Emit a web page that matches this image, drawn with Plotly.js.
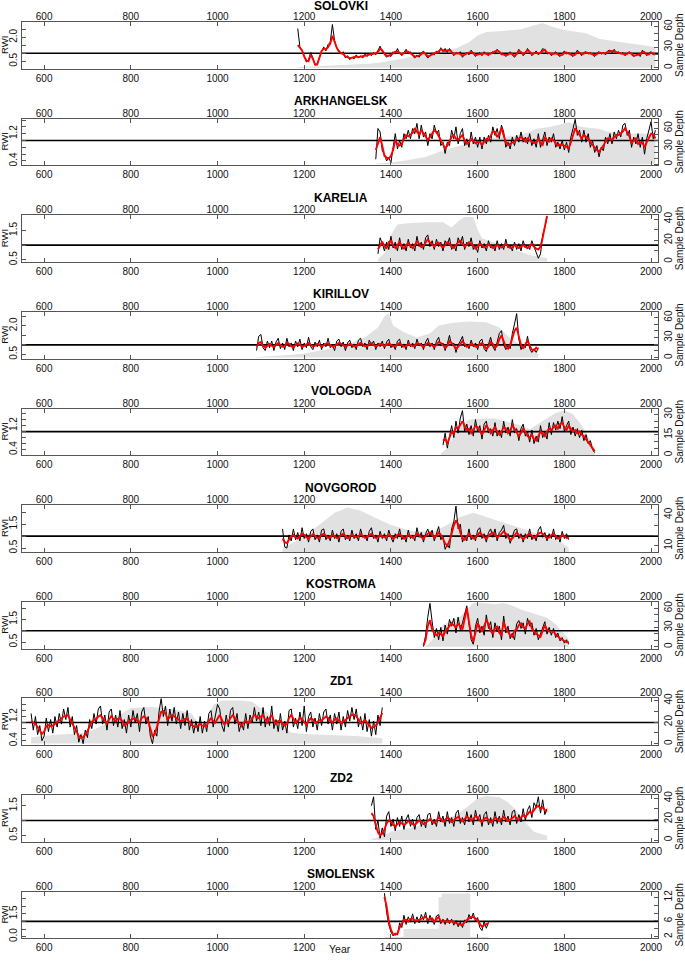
<!DOCTYPE html>
<html><head><meta charset="utf-8">
<script src="https://cdn.plot.ly/plotly-3.0.1.min.js"></script>
<style>html,body{margin:0;padding:0;background:#fff}#chart{width:685px;height:961px}</style>
</head><body><div id="chart"></div>
<script>
// ---------------- DATA ----------------
const chronNames = ['SOLOVKI','ARKHANGELSK','KARELIA','KIRILLOV','VOLOGDA','NOVGOROD','KOSTROMA','ZD1','ZD2','SMOLENSK'];
const yearTicks = [600,800,1000,1200,1400,1600,1800,2000];
const yearStep = 5;

const solovkiStart = 1185;
const solovkiRwi = [
2.55,1.4,1.2,0.75,0.45,0.6,1.05,0.7,0.25,0.35,
0.8,1.1,1.4,1.15,1.55,1.7,2.8,1.8,1.3,1.2,
0.95,1.1,0.7,0.85,0.6,0.75,0.65,0.9,0.7,0.85,
0.7,0.95,0.8,1.0,0.85,1.05,0.9,1.15,1.45,1.1,
0.95,0.75,0.9,0.8,1.1,0.95,1.3,1.0,0.85,1.05,
1.25,0.95,1.1,0.85,0.7,0.9,0.75,1.0,1.15,0.9,
0.7,0.85,1.0,0.9,1.15,1.0,1.35,1.1,1.3,1.05,
1.3,1.1,0.85,1.05,0.95,1.1,0.75,0.95,1.05,0.9,
1.2,1.0,0.8,0.95,1.05,0.85,1.1,0.95,0.85,1.0,
1.1,0.95,1.25,1.1,0.9,1.0,0.8,0.95,1.1,0.9,
0.75,0.95,1.25,1.05,0.85,1.0,1.3,1.1,0.85,1.0,
1.15,0.9,1.05,1.3,1.2,0.95,1.05,0.85,1.0,1.1,
0.9,0.8,0.95,1.15,0.95,1.05,0.9,0.8,0.95,1.2,
1.0,0.85,1.05,1.1,0.95,1.05,0.9,0.8,1.0,1.1,
0.95,1.05,0.9,1.15,1.2,1.05,1.25,1.0,1.1,0.95,
1.05,0.85,1.0,1.1,0.9,0.8,0.9,0.95,0.8,1.2,
1.05,0.85,1.0,1.1,0.9,1.0];
const solovkiSpline = [
1.52,1.35,1.18,0.8,0.55,0.5,0.92,0.65,0.3,0.3,
0.7,1.15,1.3,1.25,1.38,1.6,2.1,1.7,1.35,1.1,
1.05,0.95,0.8,0.75,0.7,0.72,0.75,0.8,0.76,0.78,
0.8,0.84,0.88,0.92,0.95,0.98,1.0,1.1,1.28,1.2,
0.98,0.85,0.85,0.9,1.0,1.1,1.12,1.0,0.92,1.02,
1.12,1.1,1.0,0.9,0.8,0.82,0.86,0.95,1.05,0.95,
0.8,0.85,0.95,1.0,1.05,1.12,1.25,1.2,1.15,1.18,
1.2,1.08,0.95,0.98,1.02,0.95,0.85,0.92,1.0,1.05,
1.1,1.0,0.9,0.92,0.96,0.95,1.0,0.97,0.92,0.98,
1.05,1.1,1.18,1.1,0.95,0.92,0.88,0.92,1.0,0.95,
0.85,0.95,1.15,1.08,0.95,1.05,1.2,1.1,0.95,1.0,
1.05,1.0,1.02,1.15,1.22,1.05,1.0,0.95,0.97,1.0,
0.95,0.88,0.9,1.02,1.05,1.0,0.95,0.87,0.92,1.08,
1.05,0.95,0.98,1.05,1.02,1.0,0.95,0.9,0.95,1.05,
1.02,1.0,1.02,1.1,1.13,1.15,1.12,1.05,1.03,1.0,
0.98,0.93,0.97,1.05,0.98,0.85,0.88,0.92,0.95,1.1,
1.08,0.92,0.93,1.05,1.0,0.92];
const solovkiDepthYears = [1185,1220,1260,1300,1350,1380,1400,1450,1500,1550,1580,1600,1620,1650,1700,1730,1750,1770,1800,1850,1880,1920,1950,2000,2010];
const solovkiDepth = [1,2,3,4,6,8,10,16,23,28,37,47,52,53,56,62,65,60,55,50,42,38,35,30,30];

const arkhStart = 1365;
const arkhRwi = [
0.45,1.35,1.25,0.7,0.6,0.4,0.5,0.35,0.8,1.2,
0.75,1.0,0.8,1.2,1.05,1.3,1.05,1.35,1.2,1.5,
1.05,1.45,1.1,1.25,0.85,1.2,1.05,1.45,1.2,1.3,
0.85,0.95,0.62,0.95,0.85,1.3,1.05,1.4,0.9,1.2,
1.35,0.85,1.05,0.8,1.25,0.9,1.1,0.8,1.1,0.75,
1.1,0.9,1.15,0.95,1.4,1.15,1.35,1.05,1.45,1.25,
0.8,0.95,0.75,1.1,0.85,1.15,0.95,1.25,0.95,1.1,
0.9,1.2,0.85,1.05,0.8,1.2,0.8,1.0,1.25,0.85,
1.1,0.95,1.2,0.8,0.95,0.75,1.0,0.72,0.95,0.65,
1.1,1.35,1.62,1.15,1.3,0.95,1.3,0.95,1.2,0.8,
1.0,0.65,0.85,0.52,0.8,0.7,1.1,0.9,1.2,0.9,
1.25,1.05,1.3,1.1,1.45,1.5,1.15,1.3,0.8,1.1,
0.9,1.2,0.8,1.1,0.6,1.05,1.3,1.55,1.05,1.3];
const arkhSpline = [
0.72,0.95,1.1,0.85,0.55,0.5,0.47,0.55,0.72,1.0,
0.9,0.85,0.9,1.05,1.16,1.12,1.18,1.22,1.36,1.25,
1.16,1.31,1.2,1.1,1.02,1.1,1.2,1.3,1.25,1.12,
0.98,0.85,0.77,0.85,0.98,1.1,1.16,1.05,1.02,1.1,
1.16,1.0,0.9,0.95,1.05,1.0,0.92,0.96,0.95,0.87,
0.95,1.05,1.01,1.15,1.26,1.25,1.1,1.2,1.36,1.15,
0.95,0.87,0.9,0.95,0.97,1.02,1.06,1.1,1.05,0.97,
1.06,1.02,0.97,0.92,0.95,1.06,0.92,0.87,1.11,1.0,
0.97,1.06,1.0,0.92,0.85,0.88,0.87,0.85,0.82,0.77,
0.95,1.2,1.36,1.26,1.15,1.06,1.16,1.1,1.06,0.95,
0.87,0.77,0.72,0.67,0.75,0.85,0.97,1.06,1.04,1.01,
1.1,1.16,1.16,1.22,1.26,1.36,1.25,1.12,0.92,1.0,
1.06,0.9,0.95,0.95,0.8,0.95,1.1,1.2,1.18,1.06];
const arkhDepthYears = [1365,1400,1440,1480,1520,1560,1600,1640,1680,1710,1735,1765,1790,1810,1840,1880,1900,1940,1980,2010];
const arkhDepth = [1,3,7,12,23,31,37,45,47,51,59,62,66,70,62,59,54,51,51,50];

const kareliaStart = 1370;
const kareliaRwi = [
0.7,1.25,1.05,0.8,1.1,0.85,1.3,0.9,1.1,0.8,
1.25,0.85,1.05,0.8,1.2,0.9,1.05,0.8,1.3,0.95,
1.1,0.85,1.25,1.35,0.95,1.15,0.85,1.2,0.95,1.1,
0.8,1.15,1.0,1.25,0.85,1.0,0.8,1.25,1.05,1.3,
0.85,1.1,0.95,1.25,0.85,1.0,0.75,1.15,0.9,1.05,
0.8,1.15,0.9,1.0,0.8,1.15,0.85,1.05,0.85,1.2,
0.9,1.0,0.8,1.1,0.85,1.05,0.8,1.15,0.9,1.0,
0.85,1.15,0.95,0.75,0.55,0.7,1.35,1.6,1.95];
const kareliaSpline = [
0.85,1.0,1.12,0.95,0.9,1.1,1.15,1.0,0.9,1.0,
1.1,0.95,0.88,1.0,1.08,0.97,0.9,1.0,1.12,1.05,
0.93,0.98,1.1,1.2,1.08,1.0,0.95,1.05,1.08,0.98,
0.92,1.0,1.1,1.05,0.95,0.9,1.0,1.1,1.15,1.05,
0.95,1.0,1.1,1.05,0.95,0.88,0.95,1.05,1.0,0.92,
0.95,1.02,0.97,0.9,0.95,1.0,0.95,0.92,0.98,1.03,
0.95,0.9,0.93,1.0,0.96,0.9,0.95,1.0,0.94,0.9,
0.97,1.02,0.95,0.88,0.85,0.95,1.25,1.7,2.0];
const kareliaDepthYears = [1370,1385,1400,1415,1440,1480,1520,1540,1555,1570,1590,1600,1610,1640,1680,1720,1760];
const kareliaDepth = [2,8,25,35,36,37,37,32,38,42,42,30,22,18,12,6,3];

const kirillovStart = 1090;
const kirillovRwi = [
0.7,1.45,1.55,0.85,0.7,1.2,0.85,1.2,0.7,1.15,
1.35,0.8,1.1,0.75,1.35,0.9,1.1,0.7,1.2,0.9,
1.3,0.75,1.1,0.85,1.4,0.9,0.75,1.15,0.9,1.25,
0.75,1.1,0.9,1.35,0.85,1.0,0.7,1.2,1.3,0.9,
1.15,0.7,1.1,1.25,0.85,1.05,0.75,1.25,1.35,0.9,
1.1,0.75,1.25,1.0,1.2,0.75,1.1,0.9,1.2,0.8,
1.15,1.3,0.85,1.05,0.75,1.2,1.3,0.85,1.05,0.75,
1.25,0.9,1.1,0.8,1.3,0.95,1.1,0.75,1.15,1.35,
0.9,1.1,0.75,1.2,1.4,0.95,1.1,0.7,1.05,1.5,
0.95,1.1,0.6,1.0,1.2,1.45,0.9,1.05,0.8,1.25,
0.9,1.1,0.75,1.2,1.3,0.8,0.65,1.05,1.4,0.9,
0.7,1.15,1.6,1.75,1.0,0.75,0.95,0.8,1.6,2.1,
2.65,1.3,0.75,1.0,0.85,1.45,0.8,0.6,0.8,0.6,
0.85];
const kirillovSpline = [
0.9,1.1,1.15,0.95,0.85,0.95,1.05,0.95,0.88,1.0,
1.1,1.0,0.9,0.95,1.1,1.05,0.92,0.88,1.0,1.08,
1.0,0.9,0.95,1.05,1.1,1.0,0.9,0.95,1.05,1.0,
0.92,0.97,1.05,1.08,1.0,0.9,0.93,1.02,1.1,1.05,
0.95,0.9,0.97,1.05,1.0,0.92,0.95,1.03,1.1,1.02,
0.93,0.95,1.05,1.08,1.0,0.92,0.97,1.05,1.0,0.95,
1.02,1.08,1.0,0.92,0.95,1.05,1.1,1.0,0.9,0.95,
1.05,1.0,0.93,0.98,1.08,1.05,0.95,0.9,1.0,1.1,
1.05,0.95,0.9,1.0,1.15,1.1,0.95,0.85,0.95,1.2,
1.1,0.95,0.8,0.9,1.05,1.2,1.05,0.9,0.95,1.05,
1.0,0.9,0.95,1.05,1.1,0.95,0.8,0.9,1.15,1.05,
0.85,0.95,1.3,1.5,1.15,0.9,0.8,1.0,1.35,1.75,
1.9,1.45,1.0,0.8,1.0,1.25,0.95,0.75,0.7,0.85,
0.75];
const kirillovDepthYears = [1090,1150,1200,1250,1300,1340,1370,1385,1395,1405,1430,1460,1490,1510,1540,1580,1620,1650,1670,1700,1740];
const kirillovDepth = [1,3,6,12,20,30,45,62,66,48,38,30,36,48,52,54,53,45,32,18,5];

const vologdaStart = 1520;
const vologdaRwi = [
0.55,0.95,0.45,0.9,1.2,0.8,1.35,0.95,1.45,1.7,
1.0,1.25,0.9,1.2,0.85,1.4,1.0,1.2,0.75,1.25,
1.35,0.95,1.1,0.85,1.3,0.85,1.05,0.8,1.35,0.95,
1.15,0.85,1.4,0.95,1.1,0.7,1.1,1.25,0.85,1.0,
0.65,1.05,0.6,0.85,0.65,1.2,0.8,1.0,0.75,1.3,
0.9,1.3,1.05,1.35,1.1,1.5,1.0,1.2,1.35,0.9,
1.15,0.85,1.1,0.8,1.05,0.7,0.9,0.6,0.7,0.4,
0.3];
const vologdaSpline = [
0.7,0.75,0.6,0.8,1.0,0.95,1.15,1.1,1.25,1.35,
1.2,1.05,1.1,0.95,1.05,1.2,1.15,1.0,0.9,1.05,
1.2,1.1,0.95,1.05,1.15,1.0,0.9,1.0,1.15,1.1,
0.95,1.05,1.2,1.1,0.95,0.85,0.95,1.1,1.0,0.85,
0.8,0.9,0.75,0.7,0.85,1.0,0.95,0.85,1.0,1.1,
1.05,1.15,1.2,1.1,1.25,1.3,1.15,1.05,1.2,1.1,
1.0,1.05,0.95,1.0,0.9,0.85,0.75,0.65,0.55,0.45,
0.35];
const vologdaDepthYears = [1515,1530,1545,1560,1580,1600,1640,1660,1700,1720,1750,1780,1800,1820,1840,1860,1870];
const vologdaDepth = [1,5,14,22,26,27,27,25,22,19,25,31,33,30,22,11,4];

const novgorodStart = 1150;
const novgorodRwi = [
1.3,0.55,0.5,1.05,0.8,1.3,0.85,1.15,0.8,1.35,
0.9,1.1,0.75,1.2,1.3,0.85,1.05,0.75,1.25,1.3,
0.85,1.05,0.8,1.25,0.9,1.1,0.75,1.2,1.3,0.85,
1.05,0.8,1.25,0.9,1.1,0.8,1.3,0.95,1.05,0.8,
1.2,1.35,0.9,1.05,0.75,1.2,0.9,1.1,0.8,1.25,
0.95,0.75,1.1,0.9,1.3,0.85,1.0,0.75,1.25,0.9,
1.05,0.8,1.35,0.95,1.15,0.75,1.1,1.3,1.0,1.25,
0.8,1.15,1.4,0.85,1.0,0.45,0.65,0.5,1.3,1.6,
2.25,1.3,1.5,0.75,1.0,0.8,1.3,0.85,1.05,0.8,
1.25,1.35,0.9,1.1,0.75,1.15,1.3,0.95,1.3,0.8,
1.15,1.25,1.45,0.9,1.1,0.7,1.0,1.25,1.3,0.9,
1.1,0.75,1.1,0.9,1.3,0.85,1.05,0.8,1.25,1.4,
0.95,1.15,0.8,1.1,0.9,1.3,0.85,1.05,0.75,1.2,
0.9,1.1,0.85];
const novgorodSpline = [
0.9,0.75,0.7,0.85,1.0,1.05,0.95,0.9,1.0,1.1,
1.05,0.95,0.9,1.0,1.08,1.0,0.92,0.95,1.05,1.1,
1.0,0.93,0.97,1.05,1.0,0.92,0.95,1.05,1.1,1.0,
0.92,0.97,1.05,1.0,0.95,1.0,1.08,1.02,0.93,0.97,
1.05,1.1,1.0,0.92,0.95,1.03,1.0,0.95,0.98,1.05,
1.0,0.9,0.95,1.05,1.08,0.98,0.9,0.95,1.05,1.0,
0.93,1.0,1.1,1.05,0.95,0.9,1.0,1.1,1.15,1.05,
0.95,1.0,1.15,1.05,0.85,0.7,0.6,0.8,1.1,1.45,
1.65,1.5,1.15,0.9,0.85,1.0,1.1,1.0,0.9,0.95,
1.05,1.15,1.05,0.95,0.9,1.0,1.1,1.15,1.05,0.95,
1.0,1.1,1.2,1.1,0.95,0.85,0.9,1.05,1.15,1.05,
0.95,0.88,0.95,1.05,1.1,1.0,0.92,1.0,1.1,1.15,
1.1,1.0,0.92,0.95,1.05,1.1,1.0,0.9,0.95,1.05,
1.0,0.92,0.95];
const novgorodDepthYears = [1150,1180,1210,1240,1270,1300,1330,1360,1400,1450,1500,1530,1560,1590,1620,1660,1700,1750,1790,1810];
const novgorodDepth = [8,14,22,32,42,47,44,38,30,24,24,30,38,42,38,32,27,20,14,8];

const kostromaStart = 1475;
const kostromaRwi = [
0.3,0.8,1.6,2.21,1.4,0.7,1.1,0.6,1.15,0.55,
1.25,0.85,1.5,1.2,1.55,0.9,1.6,1.05,1.35,1.8,
2.1,1.3,0.6,0.4,1.2,1.55,0.9,1.2,0.8,1.7,
1.1,1.4,0.7,1.35,0.95,1.2,0.6,1.65,0.9,1.2,
0.65,0.9,0.6,1.3,1.45,1.1,1.35,0.85,1.55,1.2,
1.35,0.8,1.1,0.6,0.9,1.2,1.4,0.85,1.15,0.8,
1.1,0.7,0.9,0.55,0.7,0.45,0.6,0.4];
const kostromaSpline = [
0.35,0.6,1.2,1.47,1.05,0.88,0.8,0.9,0.85,0.75,
0.95,1.1,1.2,1.33,1.25,1.15,1.3,1.2,1.05,1.6,
1.99,1.4,0.8,0.51,0.9,1.33,1.15,0.95,1.2,1.47,
1.3,1.0,0.85,1.1,1.18,0.9,0.8,1.4,1.1,0.96,
0.8,0.73,1.0,1.05,1.25,1.33,1.15,1.1,1.3,1.4,
1.1,0.95,0.85,0.8,0.73,1.0,1.25,1.05,0.96,0.96,
0.96,0.85,0.75,0.66,0.6,0.55,0.5,0.5];
const kostromaDepthYears = [1480,1490,1500,1520,1540,1560,1575,1590,1600,1620,1640,1660,1680,1700,1720,1740,1760,1780,1800,1810];
const kostromaDepth = [1,6,15,34,40,47,58,68,69,67,66,68,64,58,54,50,45,35,20,12];

const zd1Start = 570;
const zd1Rwi = [
1.3,0.75,1.2,0.6,0.9,0.4,0.55,1.15,0.7,1.1,
0.65,1.2,0.85,1.3,0.95,1.45,1.1,1.5,0.85,1.2,
0.6,0.9,0.35,0.6,0.3,0.75,0.5,1.1,0.8,1.3,
0.95,1.45,1.55,0.95,1.25,0.75,1.35,1.45,0.9,1.25,
0.85,1.4,0.8,1.1,0.65,1.25,0.85,1.4,1.0,1.3,
0.7,1.35,1.5,0.95,1.2,0.55,0.3,0.75,0.55,1.35,
1.8,1.2,1.55,0.9,1.45,1.05,1.5,0.95,1.35,0.8,
1.3,0.9,1.4,0.75,1.1,0.65,1.05,0.7,1.2,0.65,
1.05,0.7,1.3,1.4,0.85,1.2,1.6,1.45,0.9,0.7,
1.25,0.85,1.4,1.5,0.95,1.3,0.7,1.0,0.75,1.3,
0.8,1.25,1.0,1.5,1.05,1.35,0.9,1.5,0.85,1.2,
0.9,1.55,0.8,1.1,0.7,1.3,0.75,1.05,0.65,1.4,
1.45,0.85,1.15,0.8,1.35,0.9,1.55,0.7,1.2,1.35,
0.85,1.15,0.75,1.3,0.9,1.35,1.45,0.95,1.25,0.75,
1.3,0.95,1.35,0.75,1.2,0.85,1.4,1.05,1.5,1.1,
1.45,0.85,1.2,0.75,1.3,0.7,1.1,0.55,1.05,0.6,
1.25,0.9,1.5];
const zd1Spline = [
1.05,1.0,0.95,0.85,0.72,0.62,0.7,0.88,0.92,0.88,
0.9,0.95,1.0,1.07,1.14,1.2,1.22,1.25,1.1,0.98,
0.85,0.7,0.55,0.5,0.52,0.6,0.72,0.88,1.02,1.08,
1.12,1.2,1.24,1.15,1.05,0.98,1.1,1.22,1.12,1.05,
1.12,1.14,1.05,0.9,0.95,1.03,1.08,1.12,1.14,1.05,
1.0,1.15,1.2,1.15,1.05,0.8,0.55,0.6,0.85,1.15,
1.36,1.38,1.3,1.1,1.18,1.25,1.2,1.15,1.12,1.05,
1.05,1.12,1.12,1.0,0.92,0.88,0.85,0.9,0.95,0.9,
0.88,0.9,1.05,1.14,1.05,1.0,1.15,1.25,1.1,0.95,
1.0,1.03,1.15,1.25,1.15,1.05,0.95,0.88,1.0,1.05,
1.0,1.0,1.15,1.25,1.2,1.14,1.2,1.25,1.1,1.0,
1.15,1.25,1.05,0.95,1.05,1.05,0.95,0.9,0.95,1.15,
1.25,1.1,1.0,1.05,1.15,1.12,1.0,0.92,1.05,1.14,
1.1,1.0,1.02,1.08,1.07,1.12,1.2,1.15,1.05,1.0,
1.1,1.14,1.05,0.98,1.05,1.08,1.15,1.2,1.25,1.25,
1.22,1.1,0.98,1.02,1.08,1.0,0.9,0.82,0.85,0.9,
1.0,1.14,1.32];
const zd1DepthYears = [570,620,700,730,780,800,850,900,940,960,975,990,1010,1050,1080,1110,1140,1170,1200,1260,1320,1380];
const zd1Depth = [6,8,10,16,28,33,34,32,28,16,20,36,40,40,39,30,20,10,9,8,7,5];

const zd2Start = 1355;
const zd2Rwi = [
1.5,1.8,0.7,1.0,0.4,0.75,0.45,1.15,1.3,0.8,
1.05,0.65,1.1,0.8,1.15,0.7,1.05,1.2,0.8,1.05,
0.7,1.1,1.2,0.8,1.05,0.75,1.2,1.25,0.85,1.05,
0.8,1.3,0.95,1.15,0.8,1.3,0.9,1.1,0.8,1.25,
1.35,0.9,1.1,0.85,1.3,0.95,1.2,0.85,1.35,1.0,
1.2,0.8,1.2,1.3,0.85,1.1,0.8,1.3,0.9,1.15,
0.85,1.35,0.95,1.15,0.85,1.3,1.35,0.9,1.2,0.95,
1.4,1.0,1.35,1.5,1.1,1.6,1.45,1.8,1.25,1.7,
1.2,1.4];
const zd2Spline = [
1.25,1.15,0.85,0.6,0.5,0.55,0.7,0.9,1.0,0.95,
0.85,0.8,0.88,0.95,0.9,0.85,0.9,0.98,0.95,0.88,
0.85,0.92,1.0,0.95,0.88,0.92,1.0,1.05,0.98,0.92,
1.0,1.1,1.05,0.97,1.02,1.1,1.05,0.95,1.0,1.08,
1.12,1.05,0.98,1.05,1.12,1.08,1.0,1.05,1.15,1.1,
1.0,0.95,1.05,1.1,1.02,0.95,1.0,1.1,1.05,0.98,
1.05,1.12,1.05,0.98,1.02,1.1,1.15,1.08,1.02,1.1,
1.18,1.12,1.2,1.3,1.25,1.35,1.45,1.5,1.4,1.45,
1.35,1.3];
const zd2DepthYears = [1355,1380,1400,1450,1500,1550,1580,1600,1620,1650,1670,1690,1710,1730,1760];
const zd2Depth = [1,4,8,12,17,24,33,40,42,41,36,28,17,8,4];

const smolenskStart = 1385;
const smolenskRwi = [
2.85,1.6,0.8,0.3,0.05,0.25,0.1,0.9,0.6,1.4,
0.8,1.3,0.95,1.5,0.85,1.3,0.9,1.45,1.1,1.6,
0.85,1.4,1.05,0.8,1.35,1.45,0.85,1.15,0.8,1.2,
0.85,1.15,0.75,1.05,0.65,0.95,0.6,1.1,0.9,1.45,
1.15,1.55,1.0,1.25,0.6,0.4,1.0,0.55,0.95];
const smolenskSpline = [
2.6,2.0,1.0,0.45,0.15,0.12,0.2,0.6,0.85,1.05,
1.1,1.0,1.15,1.2,1.05,1.05,1.1,1.2,1.25,1.3,
1.1,1.15,1.2,1.0,1.15,1.3,1.0,1.0,1.03,0.98,
1.0,1.03,0.95,0.88,0.8,0.77,0.78,0.95,1.1,1.2,
1.3,1.28,1.2,1.05,0.85,0.65,0.75,0.8,0.87];
const smolenskDepthYears = [1385,1429,1510,1517,1583,1625];
const smolenskDepth = [2,4,12,13,2,2];

const chronData = [
  {start: solovkiStart, rwi: solovkiRwi, spline: solovkiSpline, dy: solovkiDepthYears, d: solovkiDepth},
  {start: arkhStart, rwi: arkhRwi, spline: arkhSpline, dy: arkhDepthYears, d: arkhDepth},
  {start: kareliaStart, rwi: kareliaRwi, spline: kareliaSpline, dy: kareliaDepthYears, d: kareliaDepth},
  {start: kirillovStart, rwi: kirillovRwi, spline: kirillovSpline, dy: kirillovDepthYears, d: kirillovDepth},
  {start: vologdaStart, rwi: vologdaRwi, spline: vologdaSpline, dy: vologdaDepthYears, d: vologdaDepth},
  {start: novgorodStart, rwi: novgorodRwi, spline: novgorodSpline, dy: novgorodDepthYears, d: novgorodDepth},
  {start: kostromaStart, rwi: kostromaRwi, spline: kostromaSpline, dy: kostromaDepthYears, d: kostromaDepth},
  {start: zd1Start, rwi: zd1Rwi, spline: zd1Spline, dy: zd1DepthYears, d: zd1Depth},
  {start: zd2Start, rwi: zd2Rwi, spline: zd2Spline, dy: zd2DepthYears, d: zd2Depth},
  {start: smolenskStart, rwi: smolenskRwi, spline: smolenskSpline, dy: smolenskDepthYears, d: smolenskDepth}
];

// ---------------- STYLE / AXES ----------------
const axisStyle = [
  {rwiRange:[0.03,2.96], rwiTicks:[0.5,1,1.5,2,2.5], rwiShown:[0.5,2], dRange:[-1.5,66.5], dTicks:[0,10,20,30,40,50,60], dShown:[0,30,60], shape:'linear'},
  {rwiRange:[0.27,1.64], rwiTicks:[0.4,0.6,0.8,1,1.2,1.4,1.6], rwiShown:[0.4,1.2], dRange:[-1.9,75.9], dTicks:[0,10,20,30,40,50,60,70], dShown:[0,30,60], shape:'linear'},
  {rwiRange:[0.42,2.02], rwiTicks:[0.5,1,1.5,2], rwiShown:[0.5,1.5], dRange:[-0.64,43.64], dTicks:[0,10,20,30,40], dShown:[0,20,40], shape:'linear'},
  {rwiRange:[0.27,2.74], rwiTicks:[0.5,1,1.5,2,2.5], rwiShown:[0.5,2], dRange:[-1.6,68.6], dTicks:[0,10,20,30,40,50,60], dShown:[0,30,60], shape:'linear'},
  {rwiRange:[0.21,1.77], rwiTicks:[0.4,0.6,0.8,1,1.2,1.4,1.6], rwiShown:[0.4,1.2], dRange:[-0.28,34.28], dTicks:[0,5,10,15,20,25,30], dShown:[0,15,30], shape:'linear'},
  {rwiRange:[0.34,2.29], rwiTicks:[0.5,1,1.5,2], rwiShown:[0.5,1.5], dRange:[3.9,49.4], dTicks:[10,20,30,40], dShown:[10,40], shape:'linear'},
  {rwiRange:[0.21,2.28], rwiTicks:[0.5,1,1.5,2], rwiShown:[0.5,1.5], dRange:[-3,70], dTicks:[0,10,20,30,40,50,60], dShown:[0,30,60], shape:'linear'},
  {rwiRange:[0.25,1.8], rwiTicks:[0.4,0.6,0.8,1,1.2,1.4,1.6], rwiShown:[0.4,1.2], dRange:[-1.5,42], dTicks:[0,10,20,30,40], dShown:[0,20,40], shape:'linear'},
  {rwiRange:[0.28,1.86], rwiTicks:[0.5,1,1.5], rwiShown:[0.5,1.5], dRange:[-1.7,43], dTicks:[0,10,20,30,40], dShown:[0,20,40], shape:'linear'},
  {rwiRange:[-0.12,2.95], rwiTicks:[0,0.5,1,1.5,2,2.5], rwiShown:[0,1.5], dRange:[1.56,13.44], dTicks:[2,4,6,8,10,12], dShown:[2,6,12], shape:'hv'}
];

const W = 685, H = 961, ML = 22, MR = 27;
const TOP0 = 22, STEP = 96.63, PH = 46.8;
const XRANGE = [549, 2016];
const py = p => 1 - p / H;
const px = p => (p - ML) / (W - ML - MR);
const FONT = 'Liberation Sans, Arial, Helvetica, sans-serif';
const frame = '#555555';

const traces = [];
const layout = {
  width: W, height: H,
  margin: {l: ML, r: MR, t: 0, b: 0, pad: 0},
  paper_bgcolor: '#ffffff', plot_bgcolor: 'rgba(0,0,0,0)',
  showlegend: false, hovermode: false, dragmode: false,
  font: {family: FONT, size: 10, color: '#000'},
  annotations: []
};
const key = (a, n) => n === 1 ? a + 'axis' : a + 'axis' + n;
const ref = (a, n) => n === 1 ? a : a + n;
const common = {showgrid: false, zeroline: false, showline: true, linecolor: frame, linewidth: 1,
  ticks: 'inside', ticklen: 4, tickcolor: frame, tickwidth: 1,
  tickfont: {family: FONT, size: 10, color: '#111'}, fixedrange: true, tickmode: 'array'};

chronNames.forEach((name, i) => {
  const c = chronData[i], s = axisStyle[i];
  const nb = 2 * i + 1, nt = 2 * i + 2;
  const top = TOP0 + i * STEP, bot = top + PH, mid = (top + bot) / 2;
  layout[key('x', nb)] = Object.assign({}, common, {domain: [0, 1], range: XRANGE, anchor: ref('y', nb), side: 'bottom',
    tickvals: yearTicks, ticktext: yearTicks.map(String)});
  layout[key('x', nt)] = Object.assign({}, common, {range: XRANGE, overlaying: ref('x', nb), anchor: ref('y', nb), side: 'top',
    tickvals: yearTicks, ticktext: yearTicks.map(String), ticklabelstandoff: -3});
  layout[key('y', nb)] = Object.assign({}, common, {domain: [py(bot), py(top)], range: s.dRange, anchor: ref('x', nb), side: 'right',
    tickvals: s.dTicks, ticktext: s.dTicks.map(v => s.dShown.includes(v) ? String(v) : ''), tickangle: -90, ticklabelstandoff: 1});
  layout[key('y', nt)] = Object.assign({}, common, {range: s.rwiRange, overlaying: ref('y', nb), anchor: ref('x', nb), side: 'left',
    tickvals: s.rwiTicks, ticktext: s.rwiTicks.map(v => s.rwiShown.includes(v) ? v.toFixed(1) : ''), tickangle: -90, ticklabelstandoff: 0});

  const yrs = c.rwi.map((_, k) => c.start + k * yearStep);
  const syrs = c.spline.map((_, k) => c.start + k * yearStep);
  traces.push({type: 'scatter', mode: 'lines', x: c.dy, y: c.d, xaxis: ref('x', nb), yaxis: ref('y', nb),
    fill: 'tozeroy', fillcolor: '#e1e1e1', line: {width: 0, color: '#e1e1e1', shape: s.shape}, hoverinfo: 'skip'});
  // empty trace so the top year axis is registered and drawn
  traces.push({type: 'scatter', mode: 'lines', x: [], y: [], xaxis: ref('x', nt), yaxis: ref('y', nb), hoverinfo: 'skip'});
  traces.push({type: 'scatter', mode: 'lines', x: XRANGE, y: [1, 1], xaxis: ref('x', nb), yaxis: ref('y', nt),
    line: {width: 1.6, color: '#000'}, hoverinfo: 'skip'});
  traces.push({type: 'scatter', mode: 'lines', x: yrs, y: c.rwi, xaxis: ref('x', nb), yaxis: ref('y', nt),
    line: {width: 1.0, color: '#000'}, hoverinfo: 'skip'});
  traces.push({type: 'scatter', mode: 'lines', x: syrs, y: c.spline, xaxis: ref('x', nb), yaxis: ref('y', nt),
    line: {width: 1.9, color: '#ff0000'}, hoverinfo: 'skip'});

  const titleOffset = i === 0 ? 16 : 17.5;
  layout.annotations.push({text: '<b>' + name + '</b>', xref: 'paper', yref: 'paper', x: px(341), y: py(top - titleOffset),
    showarrow: false, xanchor: 'center', yanchor: 'middle', font: {family: FONT, size: 12, color: '#000'}});
  layout.annotations.push({text: 'RWI', xref: 'paper', yref: 'paper', x: px(4.5), y: py(mid), textangle: -90,
    showarrow: false, xanchor: 'center', yanchor: 'middle', font: {family: FONT, size: 9.5, color: '#111'}});
  layout.annotations.push({text: 'Sample Depth', xref: 'paper', yref: 'paper', x: px(679.5), y: py(mid), textangle: -90,
    showarrow: false, xanchor: 'center', yanchor: 'middle', font: {family: FONT, size: 10, color: '#111'}});
});
layout.annotations.push({text: 'Year', xref: 'paper', yref: 'paper', x: px(340), y: py(949),
  showarrow: false, xanchor: 'center', yanchor: 'middle', font: {family: FONT, size: 10.5, color: '#111'}});

Plotly.newPlot('chart', traces, layout, {staticPlot: true, displayModeBar: false});
</script>
</body></html>
